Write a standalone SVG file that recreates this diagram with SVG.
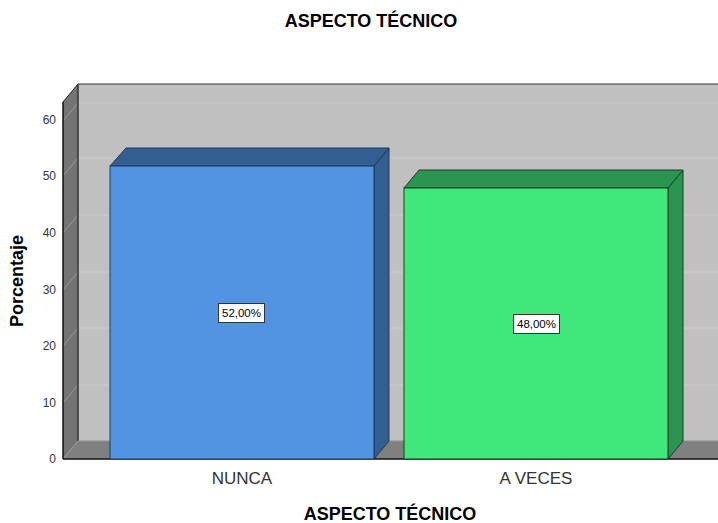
<svg xmlns="http://www.w3.org/2000/svg" width="718" height="523" viewBox="0 0 718 523">
<style>
text{font-family:"Liberation Sans",Arial,sans-serif;}
.title{font-size:18px;font-weight:bold;fill:#000;}
.tick{font-size:12px;fill:#333;text-anchor:end;}
.cat{font-size:17px;fill:#333;text-anchor:middle;}
.grid{stroke:#cdcdcd;stroke-width:1;fill:none;}
.gridl{stroke:#9a9a9a;stroke-width:1;fill:none;}
.lbl{font-size:11.5px;fill:#000;text-anchor:middle;}
.lblbox{fill:#fff;stroke:#333;stroke-width:1;}
</style>
<rect width="718" height="523" fill="#fff"/>
<text class="title" x="371" y="27" text-anchor="middle">ASPECTO TÉCNICO</text>
<g id="chart-frame">
<rect x="78" y="84" width="640" height="357" fill="#c0c0c0"/>
<polygon points="63,102 78,84 78,441 63,459" fill="#747474"/>
<polygon points="63,459 78,441 718,441 718,459" fill="#808080"/>
<g>
<line class="grid" x1="78" y1="385" x2="718" y2="385"/>
<line class="grid" x1="78" y1="328" x2="718" y2="328"/>
<line class="grid" x1="78" y1="272" x2="718" y2="272"/>
<line class="grid" x1="78" y1="215" x2="718" y2="215"/>
<line class="grid" x1="78" y1="158" x2="718" y2="158"/>
<line class="grid" x1="78" y1="103" x2="718" y2="103"/>
<line class="gridl" x1="63" y1="403" x2="78" y2="385"/>
<line class="gridl" x1="63" y1="346" x2="78" y2="328"/>
<line class="gridl" x1="63" y1="290" x2="78" y2="272"/>
<line class="gridl" x1="63" y1="233" x2="78" y2="215"/>
<line class="gridl" x1="63" y1="176" x2="78" y2="158"/>
<line class="gridl" x1="63" y1="121" x2="78" y2="103"/>
<line class="gridl" x1="63" y1="459" x2="78" y2="441"/>
</g>
<line x1="78" y1="84" x2="718" y2="84" stroke="#333" stroke-width="1"/>
<line x1="78" y1="84" x2="78" y2="441" stroke="#333" stroke-width="1.5"/>
<line x1="63" y1="102" x2="78" y2="84" stroke="#222" stroke-width="1"/>
<line x1="63" y1="102" x2="63" y2="459" stroke="#111" stroke-width="1.5"/>
<line x1="63" y1="459" x2="718" y2="459" stroke="#111" stroke-width="1.5"/>
<line x1="78" y1="441" x2="718" y2="441" stroke="#909090" stroke-width="1"/>
</g>
<g id="y-axis">
<text class="tick" x="56" y="463">0</text>
<text class="tick" x="56" y="407">10</text>
<text class="tick" x="56" y="350">20</text>
<text class="tick" x="56" y="294">30</text>
<text class="tick" x="56" y="237">40</text>
<text class="tick" x="56" y="180">50</text>
<text class="tick" x="56" y="124">60</text>
<text class="title" transform="translate(23,281) rotate(-90)" text-anchor="middle">Porcentaje</text>
</g>
<g id="bar-nunca">
<polygon points="374,166 389,148 389,441 374,459" fill="#335e91" stroke="#1f3a5c" stroke-width="1"/>
<polygon points="110,166 126,148 389,148 374,166" fill="#335e91" stroke="#1f3a5c" stroke-width="1"/>
<rect x="110" y="166" width="264" height="293" fill="#5294e2" stroke="#1f3a5c" stroke-width="1"/>
<rect class="lblbox" x="218.5" y="303.5" width="46" height="19"/>
<text class="lbl" x="241.5" y="317">52,00%</text>
</g>
<g id="bar-aveces">
<polygon points="668,188 683,170 683,441 668,459" fill="#2a9550" stroke="#173f25" stroke-width="1"/>
<polygon points="404,188 419,170 683,170 668,188" fill="#2a9550" stroke="#173f25" stroke-width="1"/>
<rect x="404" y="188" width="264" height="271" fill="#40e87c" stroke="#173f25" stroke-width="1"/>
<rect class="lblbox" x="513.5" y="314.5" width="46" height="19"/>
<text class="lbl" x="536.5" y="328">48,00%</text>
</g>
<g id="connectors"></g>
<g id="x-axis">
<text class="cat" x="242" y="484">NUNCA</text>
<text class="cat" x="536" y="484">A VECES</text>
<text class="title" x="390" y="520" text-anchor="middle">ASPECTO TÉCNICO</text>
</g>
</svg>
